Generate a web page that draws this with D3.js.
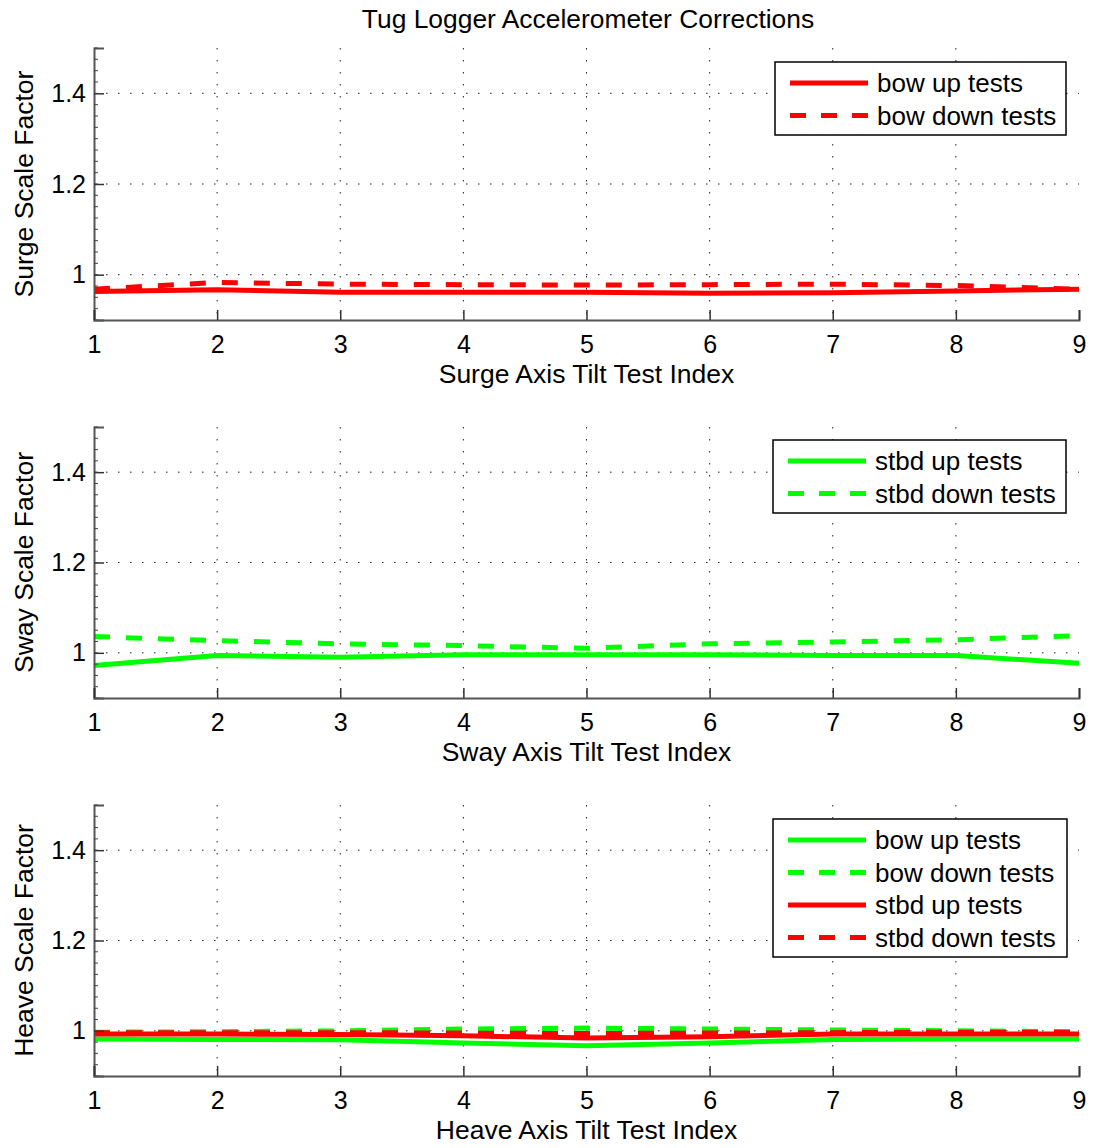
<!DOCTYPE html>
<html><head><meta charset="utf-8">
<script src="https://cdn.jsdelivr.net/npm/d3@7"></script>
<style>body{margin:0;background:#fff}svg{display:block;font-family:"Liberation Sans",Arial,sans-serif}</style>
</head><body><svg id="c" width="1096" height="1148"></svg>
<script>
const testIndex = [1,2,3,4,5,6,7,8,9];
const yTicks = [1, 1.2, 1.4];
const yDomain = [0.9, 1.5];

const surgeBowUp   = [0.963,0.967,0.961,0.961,0.961,0.959,0.960,0.964,0.968];
const surgeBowDown = [0.968,0.983,0.979,0.978,0.977,0.978,0.979,0.976,0.968];

const swayStbdUp   = [0.972,0.994,0.990,0.996,0.996,0.996,0.994,0.994,0.977];
const swayStbdDown = [1.036,1.027,1.020,1.016,1.010,1.020,1.024,1.029,1.038];

const heaveBowUp    = [0.982,0.981,0.980,0.973,0.967,0.973,0.981,0.982,0.982];
const heaveBowDown  = [0.997,0.998,1.000,1.004,1.006,1.004,1.002,1.000,0.998];
const heaveStbdUp   = [0.993,0.993,0.992,0.989,0.984,0.987,0.993,0.993,0.993];
const heaveStbdDown = [0.996,0.996,0.996,0.995,0.994,0.995,0.996,0.997,0.997];

const RED = "#ff0000", GREEN = "#00ff00";

const panels = [
  {top:48, bottom:320, ylabel:"Surge Scale Factor", xlabel:"Surge Axis Tilt Test Index",
   legend:{x:775,y:62,w:291},
   series:[{name:"bow up tests",v:surgeBowUp,c:RED,d:false},{name:"bow down tests",v:surgeBowDown,c:RED,d:true}]},
  {top:427, bottom:698, ylabel:"Sway Scale Factor", xlabel:"Sway Axis Tilt Test Index",
   legend:{x:773,y:440,w:293},
   series:[{name:"stbd up tests",v:swayStbdUp,c:GREEN,d:false},{name:"stbd down tests",v:swayStbdDown,c:GREEN,d:true}]},
  {top:805, bottom:1076, ylabel:"Heave Scale Factor", xlabel:"Heave Axis Tilt Test Index",
   legend:{x:773,y:819,w:294},
   series:[{name:"bow up tests",v:heaveBowUp,c:GREEN,d:false},{name:"bow down tests",v:heaveBowDown,c:GREEN,d:true},
           {name:"stbd up tests",v:heaveStbdUp,c:RED,d:false},{name:"stbd down tests",v:heaveStbdDown,c:RED,d:true}]}
];

const svg = d3.select("#c");
const L = 94, R = 1079;
const x = d3.scaleLinear().domain([1,9]).range([L,R]);

svg.append("text").attr("x",588).attr("y",28).attr("text-anchor","middle")
  .attr("font-size",26.4).attr("fill","#000").text("Tug Logger Accelerometer Corrections");

panels.forEach(p=>{
  const y = d3.scaleLinear().domain(yDomain).range([p.bottom,p.top]);
  const g = svg.append("g");
  g.selectAll(".gx").data(testIndex.slice(1,-1)).join("line")
    .attr("x1",d=>x(d)).attr("x2",d=>x(d)).attr("y1",p.top).attr("y2",p.bottom)
    .attr("stroke","#222").attr("stroke-width",1).attr("stroke-dasharray","1.5,10.5");
  g.selectAll(".gy").data(yTicks).join("line")
    .attr("x1",L).attr("x2",R).attr("y1",d=>y(d)).attr("y2",d=>y(d))
    .attr("stroke","#222").attr("stroke-width",1).attr("stroke-dasharray","1.5,10.5");
  const line = d3.line().x((d,i)=>x(testIndex[i])).y(d=>y(d));
  p.series.forEach(s=>{
    g.append("path").attr("d",line(s.v)).attr("fill","none").attr("stroke",s.c)
      .attr("stroke-width",5).attr("stroke-dasharray",s.d?"16,16":null);
  });
  const ya = d3.axisLeft(y).tickValues(yTicks).tickSize(-10).tickPadding(8).tickFormat(d=>d===1?"1":d3.format(".1f")(d));
  const yg = g.append("g").attr("transform",`translate(${L},0)`).call(ya);
  const minor = d3.range(0.9,1.5001,0.025).map(v=>+v.toFixed(3));
  g.selectAll(".mt").data(minor).join("line").attr("x1",L).attr("x2",L+4)
    .attr("y1",d=>y(d)).attr("y2",d=>y(d)).attr("stroke","#444").attr("stroke-width",1);
  const xa = d3.axisBottom(x).tickValues(testIndex).tickSize(-10).tickPadding(18).tickFormat(d3.format("d"));
  const xg = g.append("g").attr("transform",`translate(0,${p.bottom})`).call(xa);
  [yg,xg].forEach(a=>{
    a.select(".domain").attr("stroke","#555").attr("stroke-width",2);
    a.selectAll(".tick line").attr("stroke","#333").attr("stroke-width",1.5);
    a.selectAll(".tick text").attr("font-size",25).attr("fill","#000").attr("font-family","Liberation Sans, Arial, sans-serif");
  });
  xg.selectAll(".tick text").attr("dy","0.6em");
  svg.append("text").attr("x",x(5)).attr("y",p.bottom+63).attr("text-anchor","middle")
    .attr("font-size",26.5).attr("fill","#000").text(p.xlabel);
  svg.append("text").attr("transform",`translate(33,${(p.top+p.bottom)/2}) rotate(-90)`)
    .attr("text-anchor","middle").attr("font-size",26.5).attr("fill","#000").text(p.ylabel);
  const lg = svg.append("g").attr("transform",`translate(${p.legend.x},${p.legend.y})`);
  const rowH = 32.5;
  const h = p.series.length*rowH + 8;
  lg.append("rect").attr("width",p.legend.w).attr("height",h).attr("fill","#fff")
    .attr("stroke","#000").attr("stroke-width",1.5);
  p.series.forEach((s,i)=>{
    const cy = 21 + i*rowH;
    lg.append("line").attr("x1",15).attr("x2",93).attr("y1",cy).attr("y2",cy)
      .attr("stroke",s.c).attr("stroke-width",5).attr("stroke-dasharray",s.d?"16,15":null);
    lg.append("text").attr("x",102).attr("y",cy+9).attr("font-size",26).attr("fill","#000").text(s.name);
  });
});
</script></body></html>
